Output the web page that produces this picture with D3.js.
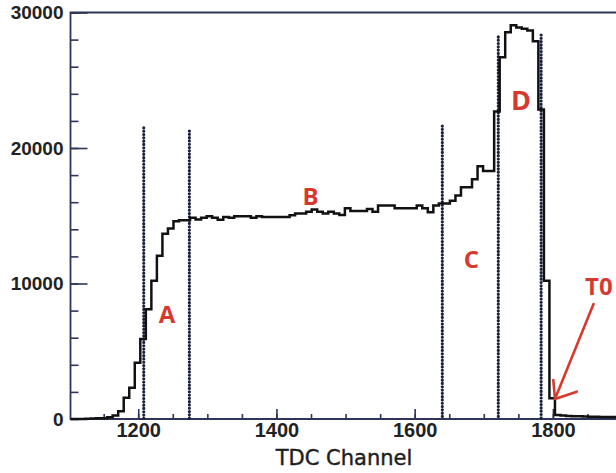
<!DOCTYPE html>
<html>
<head>
<meta charset="utf-8">
<script src="https://cdn.jsdelivr.net/npm/d3@7"></script>
<style>
  body { margin: 0; background: #fff; }
  svg { display: block; }
</style>
</head>
<body>
<div id="chart"></div>
<script>
// TDC spectrum, 8-channel bins starting at channel 1107
const binStart = 1107
const binWidth = 8
const counts = [
  0, 0, 20, 30, 50, 60, 120, 250, 570, 1560,
  2300, 4160, 5900, 8100, 10200, 12050, 13680, 14050, 14600, 14670,
  14670, 14850, 14720, 14850, 14970, 14850, 14700, 14900, 14850, 14970,
  14970, 14970, 14850, 14970, 14900, 14900, 14900, 14900, 14900, 15040,
  15170, 15170, 15300, 15460, 15290, 15170, 15290, 15170, 15050, 15550,
  15350, 15350, 15350, 15500, 15300, 15750, 15750, 15750, 15550, 15550,
  15550, 15550, 15750, 15550, 15250, 15750, 15900, 15900, 16100, 16500,
  17100, 17100, 17700, 18650, 18300, 18300, 22700, 26700, 28550, 29050,
  28900, 28800, 28670, 27880, 22850, 10210, 1540, 300, 250, 230,
  200, 200, 180, 170, 160, 150, 150, 150, 140
]

// dotted region boundaries (channel, height of the line in counts)
const markerChannels = [1208, 1274, 1640, 1721, 1783]
const markerTops = [21480, 21250, 21620, 28200, 28340]

// region labels
const labelText = ['A', 'B', 'C', 'D', 'T0']
const labelChannel = [1241.6, 1449.3, 1682.2, 1753.9, 1846.5]
const labelCount = [7750, 16420, 11810, 23540, 9815]

// T0 arrow: tail, tip, two barbs
const arrowChannels = [1858.8, 1803, 1800.6, 1834.5]
const arrowCounts = [8487, 1476, 2880, 2015]

const xMajor = [1200, 1400, 1600, 1800]
const xMinor = d3.range(1150, 1900, 50)
const yMajor = [0, 10000, 20000, 30000]
const yMinor = d3.range(0, 30001, 2000)

const W = 616, H = 473
const red = '#d8392f', ink = '#111', axisCol = '#2e3558'

const svg = d3.select('#chart').append('svg')
  .attr('width', W).attr('height', H)

const x = d3.scaleLinear().domain([1102, 1900]).range([70.5, 622])
const y = d3.scaleLinear().domain([0, 30000]).range([419, 12.5])

// minor + major ticks, pointing into the frame
function styleAxis(g) {
  g.select('.domain').remove()
  g.selectAll('line').attr('stroke', axisCol).attr('stroke-width', 1.6)
}

svg.append('g').attr('transform', `translate(0,${y(0)})`)
  .call(d3.axisBottom(x).tickValues(xMinor).tickSize(-5).tickFormat(''))
  .call(styleAxis)
svg.append('g').attr('transform', `translate(0,${y(0)})`)
  .call(d3.axisBottom(x).tickValues(xMajor).tickSize(-10).tickPadding(4).tickFormat(d3.format('d')))
  .call(styleAxis)
  .call(g => g.selectAll('text')
    .attr('font-family', 'Liberation Sans, Arial, sans-serif')
    .attr('font-weight', 'bold').attr('font-size', 20).attr('fill', '#222'))

svg.append('g').attr('transform', `translate(${x(1102)},0)`)
  .call(d3.axisLeft(y).tickValues(yMinor).tickSize(-8).tickFormat(''))
  .call(styleAxis)
svg.append('g').attr('transform', `translate(${x(1102)},0)`)
  .call(d3.axisLeft(y).tickValues(yMajor).tickSize(-17).tickPadding(7).tickFormat(d3.format('d')))
  .call(styleAxis)
  .call(g => g.selectAll('text')
    .attr('font-family', 'Liberation Sans, Arial, sans-serif')
    .attr('font-weight', 'bold').attr('font-size', 19).attr('fill', '#222'))

// frame
svg.append('path')
  .attr('d', `M${W},${y(30000)}H${x(1102)}V${y(0)}H${W}`)
  .attr('fill', 'none').attr('stroke', axisCol).attr('stroke-width', 1.8)

svg.append('text')
  .attr('x', 344).attr('y', 465)
  .attr('text-anchor', 'middle')
  .attr('font-family', 'DejaVu Sans, sans-serif')
  .attr('font-size', 21).attr('fill', '#1e1e1e')
  .attr('stroke', '#1e1e1e').attr('stroke-width', 0.4)
  .text('TDC Channel')

// histogram as a step line
const pts = [[1102, 0]]
counts.forEach((c, i) => pts.push([binStart + i * binWidth, c]))
pts.push([binStart + counts.length * binWidth, counts[counts.length - 1]])

svg.append('clipPath').attr('id', 'clip')
  .append('rect').attr('x', x(1102)).attr('y', 0).attr('width', W).attr('height', y(0) + 1)

// dotted boundaries, drawn as rows of round dots
svg.selectAll('line.marker')
  .data(markerChannels)
  .join('line')
  .attr('class', 'marker')
  .attr('x1', d => x(d)).attr('x2', d => x(d))
  .attr('y1', (d, i) => y(markerTops[i])).attr('y2', y(0))
  .attr('stroke', '#1a2040').attr('stroke-width', 3.2)
  .attr('stroke-linecap', 'round')
  .attr('stroke-dasharray', '0,3.3')

svg.append('path')
  .datum(pts)
  .attr('clip-path', 'url(#clip)')
  .attr('d', d3.line().x(d => x(d[0])).y(d => y(d[1])).curve(d3.curveStepAfter))
  .attr('fill', 'none').attr('stroke', ink).attr('stroke-width', 2.5)
  .attr('stroke-linejoin', 'miter')

// labels
svg.selectAll('text.region')
  .data(labelText)
  .join('text')
  .attr('class', 'region')
  .attr('x', (d, i) => x(labelChannel[i]))
  .attr('y', (d, i) => y(labelCount[i]))
  .attr('dy', '0.36em')
  .attr('text-anchor', (d, i) => i === 4 ? 'start' : 'middle')
  .attr('font-family', 'Open Sans, sans-serif')
  .attr('font-weight', 'bold')
  .attr('font-size', (d, i) => i === 3 ? 27 : 24)
  .attr('fill', red)
  .text(d => d)

// T0 arrow
const ax = arrowChannels.map(x), ay = arrowCounts.map(y)
svg.append('path')
  .attr('d', `M${ax[0]},${ay[0]}L${ax[1]},${ay[1]}M${ax[2]},${ay[2]}L${ax[1]},${ay[1]}L${ax[3]},${ay[3]}`)
  .attr('fill', 'none').attr('stroke', red).attr('stroke-width', 2.6)
  .attr('stroke-linecap', 'round').attr('stroke-linejoin', 'round')
</script>
</body>
</html>
